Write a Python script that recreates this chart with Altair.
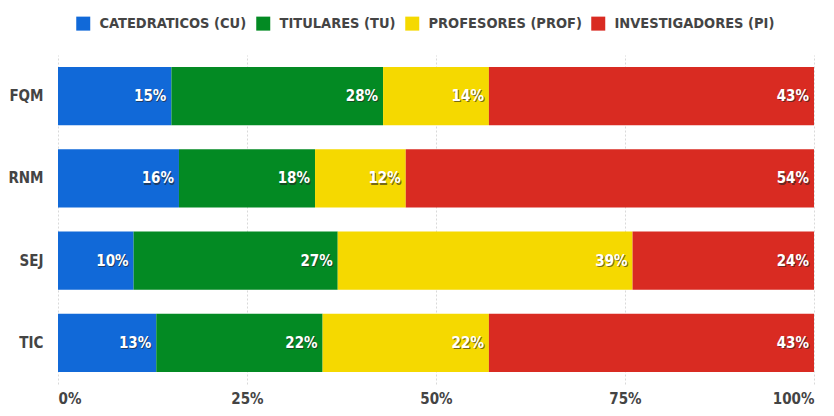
import altair as alt
import pandas as pd

groups = ["FQM", "RNM", "SEJ", "TIC"]
categories = ["CATEDRATICOS (CU)", "TITULARES (TU)", "PROFESORES (PROF)", "INVESTIGADORES (PI)"]
colors = ["#1169D8", "#038A23", "#F5D900", "#D92B22"]
values = {
    "FQM": [15, 28, 14, 43],
    "RNM": [16, 18, 12, 54],
    "SEJ": [10, 27, 39, 24],
    "TIC": [13, 22, 22, 43],
}

rows = []
for g in groups:
    cum = 0
    for i, c in enumerate(categories):
        v = values[g][i]
        rows.append({"group": g, "cat": c, "order": i, "start": cum / 100, "end": (cum + v) / 100,
                     "label": f"{v}%"})
        cum += v
df = pd.DataFrame(rows)

FONT = "DejaVu Sans Condensed, Liberation Sans, sans-serif"

base = alt.Chart(df)

x_enc = alt.X("start:Q", scale=alt.Scale(domain=[0, 1], nice=False),
              axis=alt.Axis(format=".0%", values=[0, 0.25, 0.5, 0.75, 1], title=None,
                            grid=True, gridDash=[2, 2], gridColor="#d9d9d9",
                            domain=False, ticks=False, labelPadding=7,
                            labelFont=FONT, labelFontSize=15, labelFontWeight="bold",
                            labelColor="#444444"))
y_enc = alt.Y("group:N", sort=groups,
              scale=alt.Scale(paddingInner=0.29, paddingOuter=0.145),
              axis=alt.Axis(title=None, domain=False, ticks=False, labelPadding=15,
                            labelFont=FONT, labelFontSize=15, labelFontWeight="bold",
                            labelColor="#444444"))

bars = base.mark_bar().encode(
    x=x_enc,
    x2="end:Q",
    y=y_enc,
    color=alt.Color("cat:N", scale=alt.Scale(domain=categories, range=colors),
                    legend=alt.Legend(title=None, orient="none", direction="horizontal",
                                      legendX=18, legendY=-39,
                                      symbolType="square", symbolSize=196,
                                      symbolStrokeWidth=0, symbolOpacity=1,
                                      labelFont=FONT, labelFontSize=14.5, labelFontWeight="bold",
                                      labelColor="#444444", labelOffset=9, columnPadding=9,
                                      labelLimit=300)),
    order="order:Q",
)

shadow = base.mark_text(align="right", baseline="middle", dx=-4, dy=1.2,
                        font=FONT, fontSize=15, fontWeight="bold",
                        color="#222222", opacity=0.6).encode(
    x="end:Q", y=alt.Y("group:N", sort=groups), text="label:N")

labels = base.mark_text(align="right", baseline="middle", dx=-5,
                        font=FONT, fontSize=15, fontWeight="bold",
                        color="white").encode(
    x="end:Q", y=alt.Y("group:N", sort=groups), text="label:N")

chart = alt.layer(bars, shadow, labels).properties(
    width=756, height=329,
    autosize=alt.AutoSizeParams(type="none"),
    padding={"left": 50, "top": 47, "right": 12, "bottom": 24},
).configure_view(stroke=None)

chart.save("out.html", embed_options={"renderer": "svg", "actions": False})
